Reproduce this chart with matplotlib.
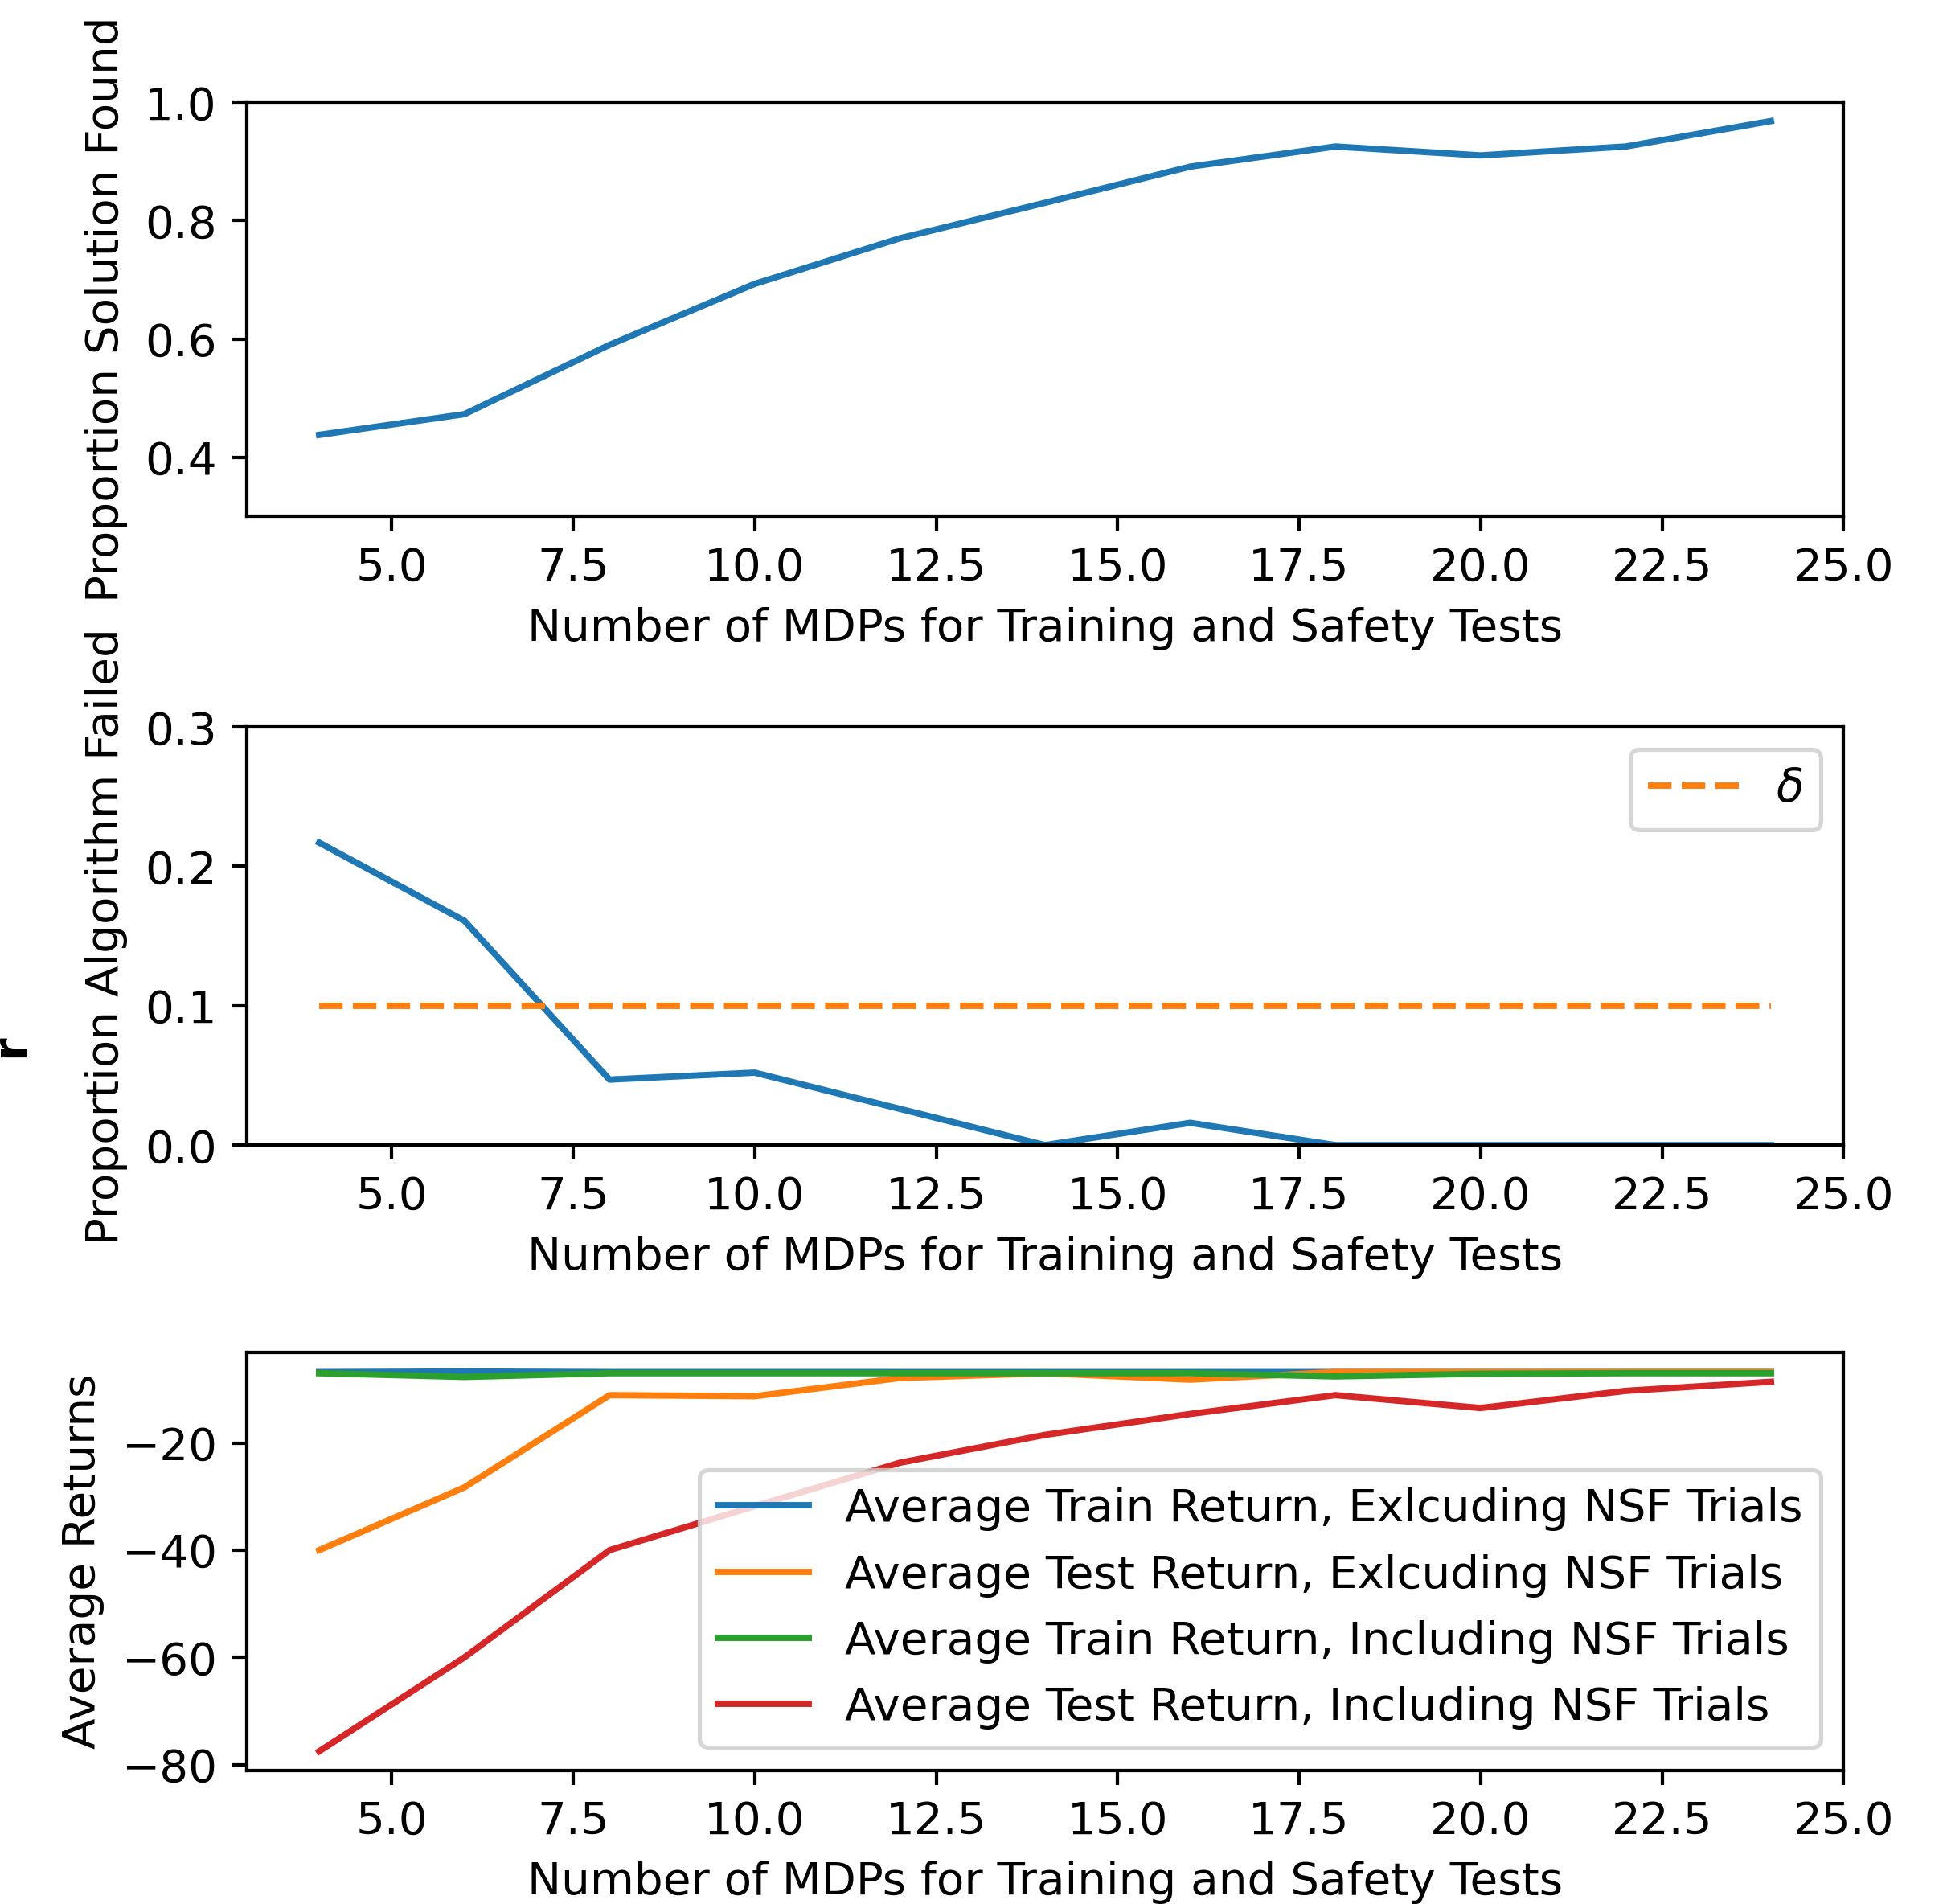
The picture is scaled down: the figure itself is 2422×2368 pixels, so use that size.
import matplotlib
matplotlib.use("Agg")
import matplotlib.pyplot as plt
from matplotlib.ticker import MultipleLocator

# number of MDPs used for training and safety tests
n_mdps = [4, 6, 8, 10, 12, 14, 16, 18, 20, 22, 24]

# proportion of trials where a solution was found
solution_found = [0.438, 0.473, 0.590, 0.693, 0.770, 0.830, 0.891, 0.925, 0.910, 0.925, 0.968]

# proportion of trials where the algorithm failed
algo_failed = [0.217, 0.161, 0.047, 0.052, 0.026, 0.0, 0.016, 0.0, 0.0, 0.0, 0.0]
delta = 0.1

# average returns
train_excl = [-6.8, -6.7, -6.8, -6.8, -6.8, -6.8, -6.8, -6.8, -6.8, -6.8, -6.8]
test_excl = [-40.0, -28.3, -11.1, -11.3, -7.9, -7.0, -8.2, -6.8, -6.8, -6.8, -6.8]
train_incl = [-7.0, -7.7, -7.0, -7.0, -7.0, -7.0, -7.0, -7.6, -7.1, -7.0, -7.0]
test_incl = [-77.5, -60.0, -40.0, -31.8, -23.7, -18.5, -14.6, -11.1, -13.5, -10.3, -8.6]

return_labels = ['Average Train Return, Exlcuding NSF Trials',
                 'Average Test Return, Exlcuding NSF Trials',
                 'Average Train Return, Including NSF Trials',
                 'Average Test Return, Including NSF Trials']

plt.rcParams['font.size'] = 10.7

DPI = 380
fig = plt.figure(figsize=(2422.3 / DPI, 2368.3 / DPI), dpi=DPI)

W, H = 2422.0, 2368.0
left, right = 306.7, 2293.0
def axes_at(top, bottom):
    return fig.add_axes([left / W, 1 - bottom / H, (right - left) / W, (bottom - top) / H])

ax1 = axes_at(127.3, 642.7)
ax2 = axes_at(904.3, 1424.3)
ax3 = axes_at(1682.3, 2201.7)

xlabel = 'Number of MDPs for Training and Safety Tests'

# top: solution found
ax1.plot(n_mdps, solution_found)
ax1.set_ylim(0.3, 1.0)
ax1.yaxis.set_major_locator(MultipleLocator(0.2))
ax1.set_ylabel('Proportion Solution Found')

# middle: algorithm failed
ax2.plot(n_mdps, algo_failed)
ax2.plot(n_mdps, [delta] * len(n_mdps), '--', label=r'$\delta$')
ax2.set_ylim(0.0, 0.3)
ax2.yaxis.set_major_locator(MultipleLocator(0.1))
ax2.set_ylabel('Proportion Algorithm Failed')
ax2.legend(loc='upper right')

# bottom: returns
for series, lab in zip([train_excl, test_excl, train_incl, test_incl], return_labels):
    ax3.plot(n_mdps, series, label=lab)
ax3.yaxis.set_major_locator(MultipleLocator(20))
ax3.set_ylabel('Average Returns')
ax3.legend(loc='lower right')

for ax in (ax1, ax2, ax3):
    ax.set_xlim(3.0, 25.0)
    ax.xaxis.set_major_locator(MultipleLocator(2.5))
    ax.set_xlabel(xlabel)

# stray glyph clipped at the left edge
fig.text(13 / W, 1 - 1301 / H, 'r', rotation=90, fontsize=11, fontweight='bold',
         ha='center', va='center')

fig.savefig('out.png', dpi=DPI)
